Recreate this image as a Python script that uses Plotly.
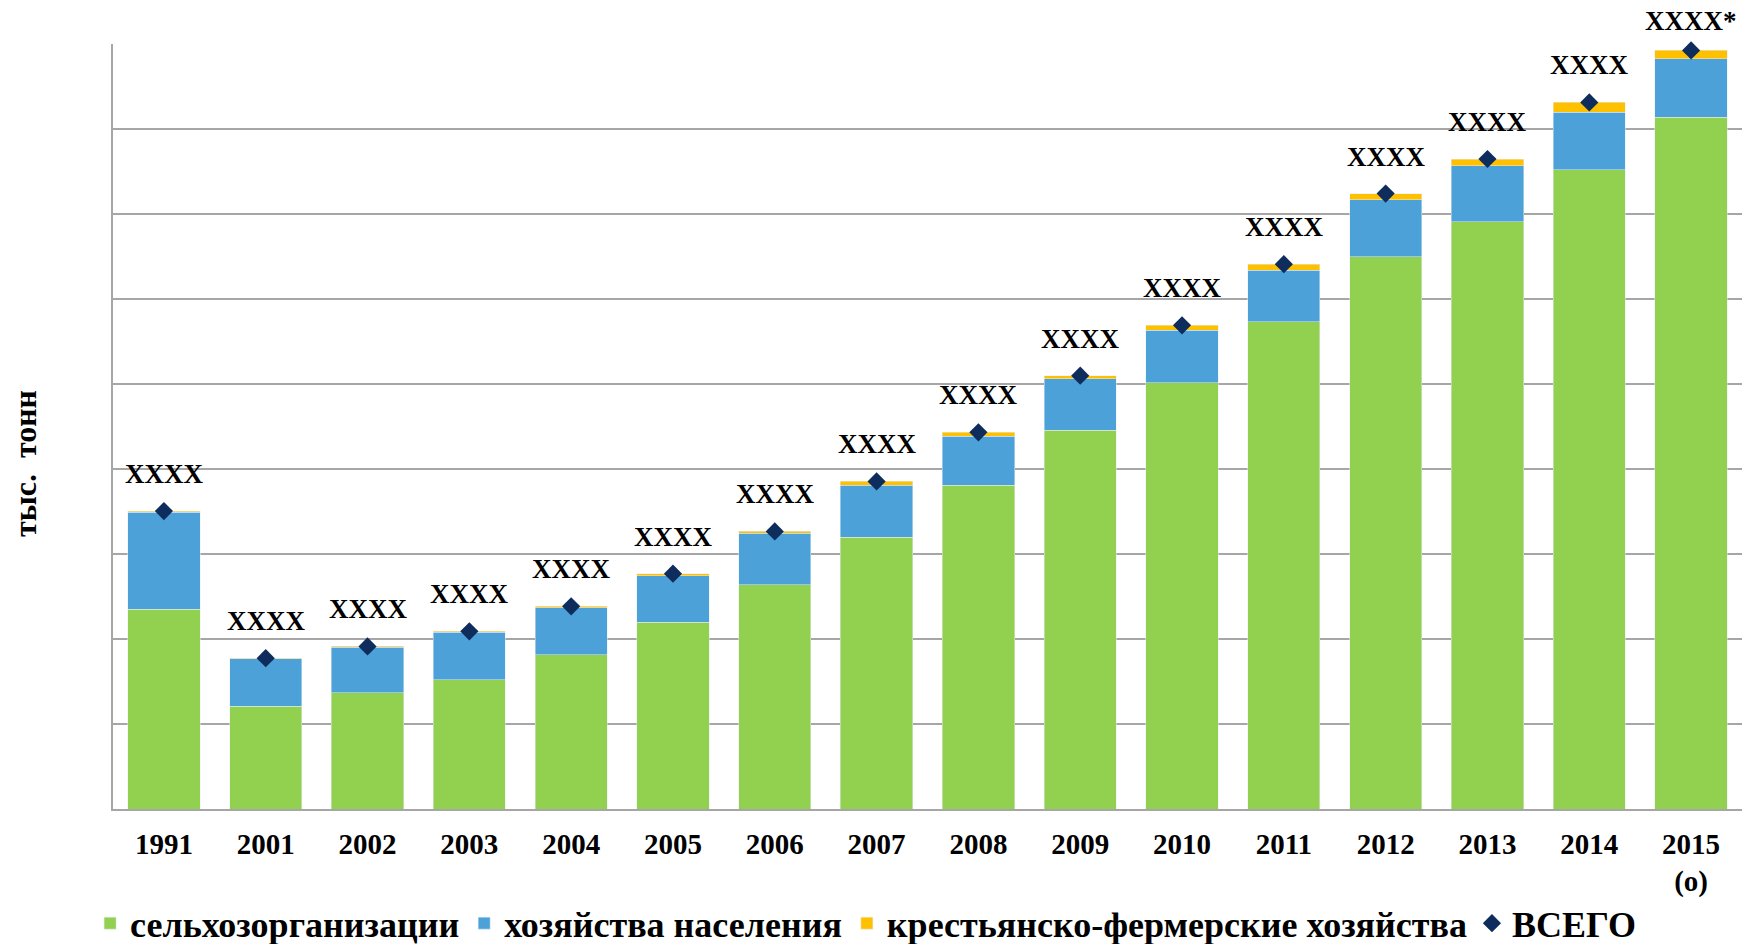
import plotly.graph_objects as go

years = ["1991", "2001", "2002", "2003", "2004", "2005", "2006", "2007",
         "2008", "2009", "2010", "2011", "2012", "2013", "2014", "2015<br>(о)"]
selkhoz = [235, 121, 136.5, 152, 181.5, 220, 264, 320, 380.7, 445.4, 501.2, 573, 650, 690.6, 752, 813.6]
naselenie = [114, 55.5, 53.8, 56, 55.4, 54.5, 60.7, 60.7, 57.7, 60.5, 61.8, 60.6, 67, 66.2, 68, 68.8]
kfh = [1.5, 1, 1, 1, 1.5, 2.3, 1.9, 4.7, 4.7, 3.9, 6, 7.4, 7, 7.9, 11.3, 10.1]
labels = ["XXXX"] * 15 + ["XXXX*"]

totals = [a + b + c for a, b, c in zip(selkhoz, naselenie, kfh)]

FONT = "Liberation Serif"

fig = go.Figure()
fig.add_trace(go.Bar(x=years, y=selkhoz, name="сельхозорганизации", marker_color="#92D050"))
fig.add_trace(go.Bar(x=years, y=naselenie, name="хозяйства населения", marker_color="#4BA1D8"))
fig.add_trace(go.Bar(x=years, y=kfh, name="крестьянско-фермерские хозяйства", marker_color="#FFC000"))
fig.add_trace(go.Scatter(x=years, y=totals, name="ВСЕГО", mode="markers",
                         marker=dict(symbol="diamond", size=14, color="#0F2D5C"),
                         cliponaxis=False))

# annotations on a category axis: position by category index
last = len(years) - 1
for i, (y, t) in enumerate(zip(totals, labels)):
    fig.add_annotation(x=i, y=y, text=t, showarrow=False,
                       yshift=37 if i < last else 29,
                       font=dict(family=FONT, size=27, color="black", weight="bold"))

fig.add_annotation(xref="paper", yref="paper", x=-0.054, y=0.451, text="тыс.  тонн",
                   textangle=-90, showarrow=False, xanchor="center", yanchor="middle",
                   font=dict(family=FONT, size=32, color="black", weight="bold"))

fig.update_layout(
    width=1742, height=944, autosize=False,
    barmode="stack", bargap=0.29,
    plot_bgcolor="white", paper_bgcolor="white",
    margin=dict(l=113, r=0, t=44, b=135, autoexpand=False),
    font=dict(family=FONT, color="black"),
    showlegend=True,
    legend=dict(orientation="h", x=0.462, xanchor="center",
                yref="container", y=0.022, yanchor="middle",
                font=dict(family=FONT, size=36, color="black", weight="bold"),
                traceorder="normal", itemwidth=30),
    xaxis=dict(type="category", range=[-0.5, len(years) - 0.5],
               showline=True, linecolor="#A6A6A6", linewidth=1.5, ticks="",
               tickfont=dict(family=FONT, size=29, color="black", weight="bold"),
               ticklabelstandoff=8),
    yaxis=dict(range=[0, 900], dtick=100, showticklabels=False,
               showgrid=True, gridcolor="#A6A6A6", gridwidth=1.5,
               showline=True, linecolor="#A6A6A6", linewidth=1.5, zeroline=False),
)

fig.write_html("out.html", config={"displayModeBar": False},
               post_script="document.body.style.margin='0';document.body.style.overflow='hidden';")
